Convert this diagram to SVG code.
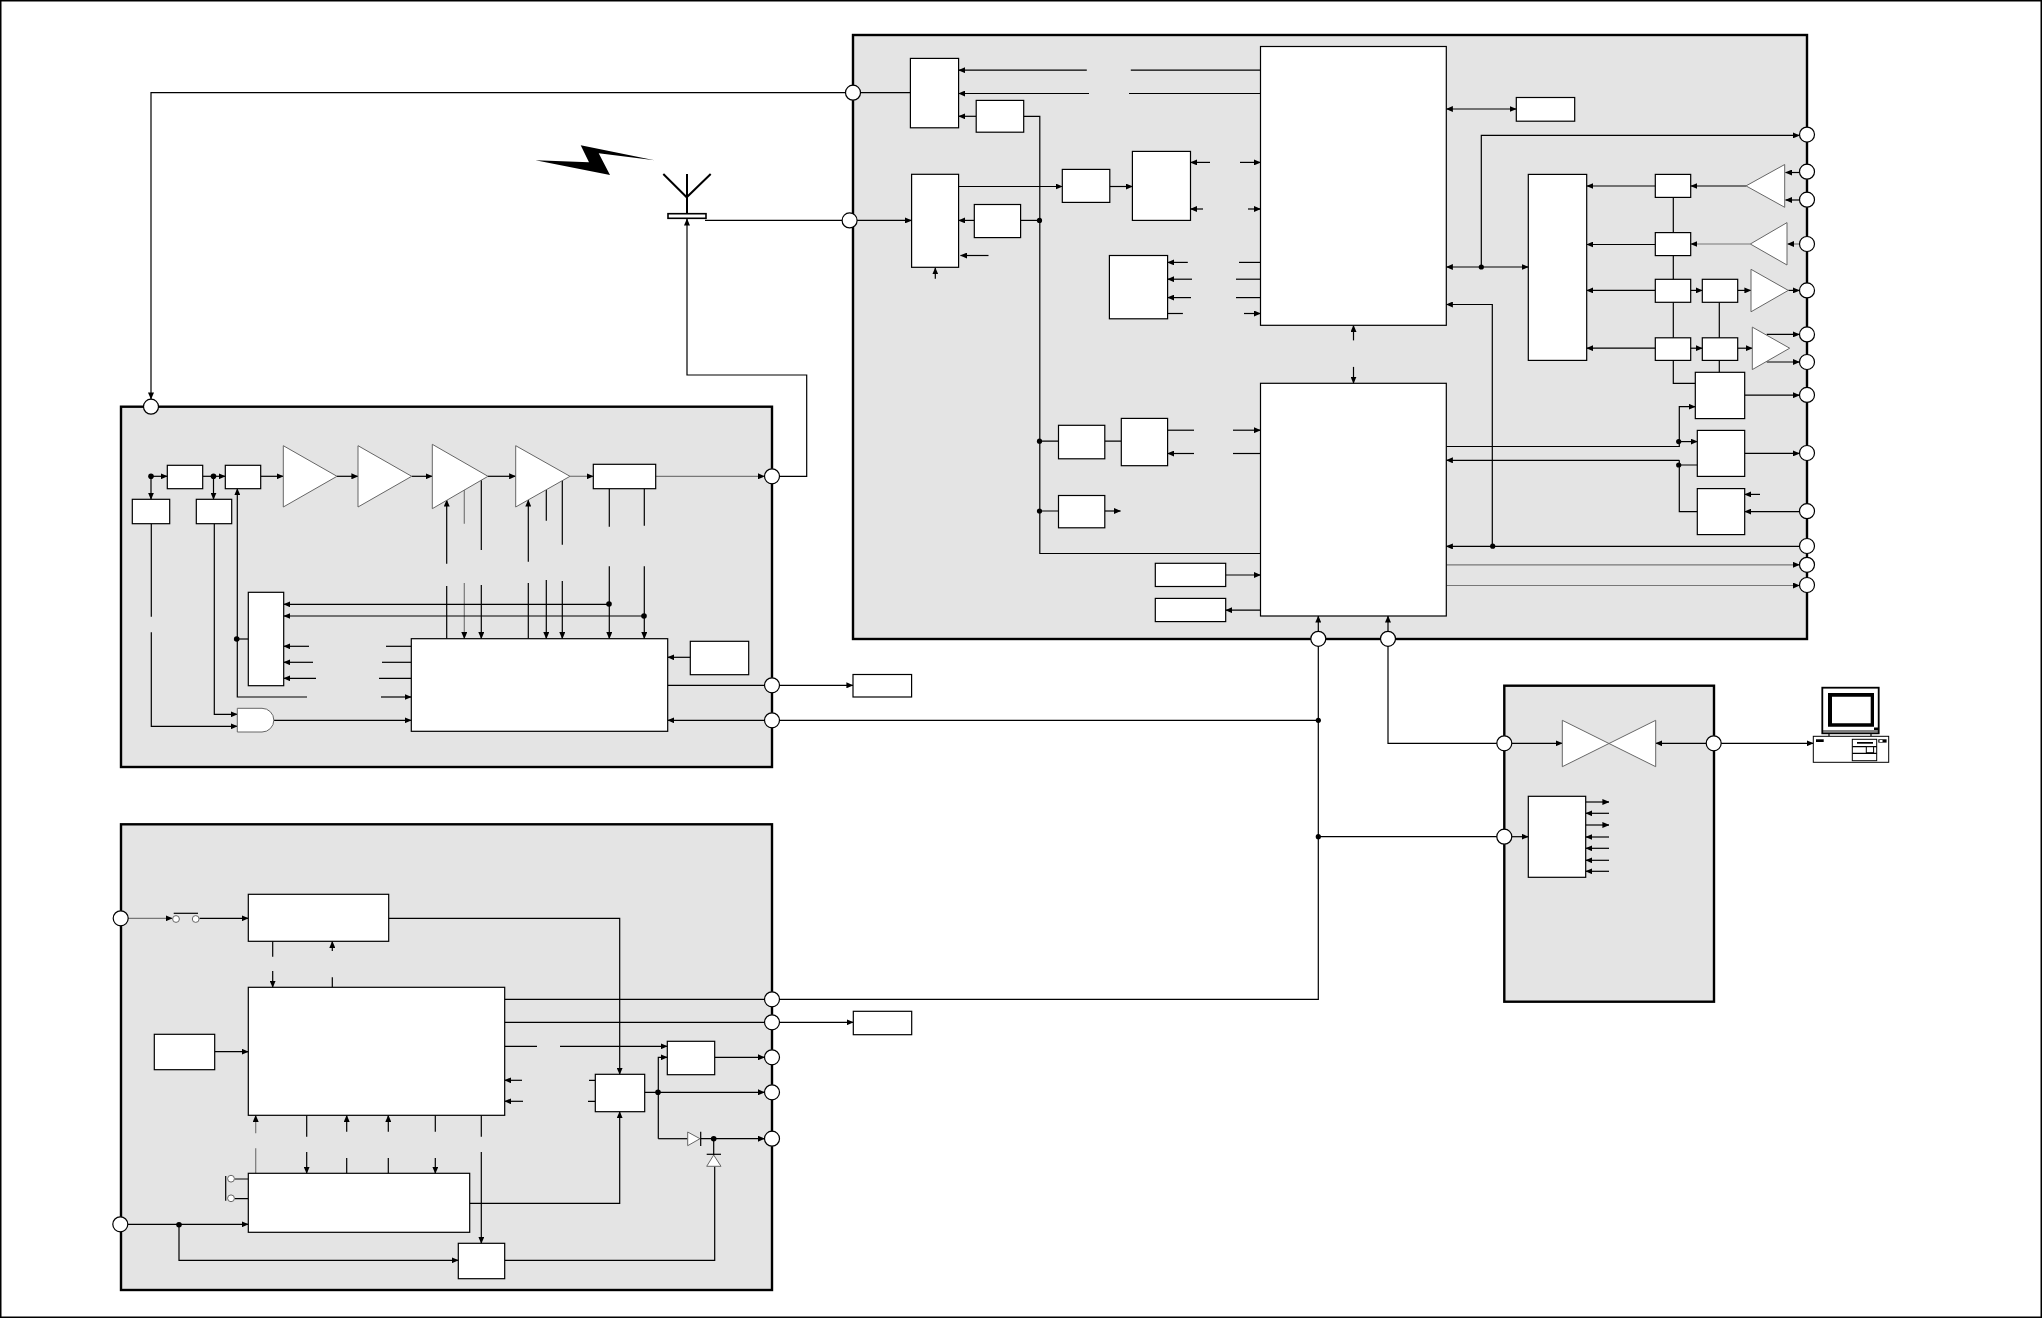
<svg xmlns="http://www.w3.org/2000/svg" width="2042" height="1318" viewBox="0 0 2042 1318">
<style>
.page{fill:#fff;stroke:#000;stroke-width:1.5}
.panel{fill:#e4e4e4;stroke:#000;stroke-width:2.4}
.b{fill:#fff;stroke:#000;stroke-width:1.2}
.t{fill:#fff;stroke:#666;stroke-width:1}
.c{fill:#fff;stroke:#000;stroke-width:1.2}
.j{fill:#000;stroke:none}
.l{fill:none;stroke:#000;stroke-width:1.2}
.g{fill:none;stroke:#777;stroke-width:1.2}
.a{marker-end:url(#m)}
.s{marker-start:url(#m2)}
.k{fill:#000;stroke:none}
.w{fill:#fff;stroke:#000;stroke-width:1}
.mon{fill:#fff;stroke:#000;stroke-width:1.8}
</style>
<defs>
<marker id="m" markerUnits="userSpaceOnUse" markerWidth="7" markerHeight="6" refX="6.6" refY="3" orient="auto"><path d="M0 0L7 3L0 6z"/></marker>
<marker id="m2" markerUnits="userSpaceOnUse" markerWidth="7" markerHeight="6" refX="6.6" refY="3" orient="auto-start-reverse"><path d="M0 0L7 3L0 6z"/></marker>
</defs>
<rect class="page" x="0.75" y="0.75" width="2040.5" height="1316.5"/>
<g id="panels">
<rect class="panel" x="853" y="35" width="954" height="604"/>
<rect class="panel" x="121" y="406.7" width="651" height="360.3"/>
<rect class="panel" x="121" y="824.3" width="651" height="465.7"/>
<rect class="panel" x="1504.3" y="685.7" width="209.7" height="316"/>
</g>
<g id="connectors">
<path class="l a" d="M853 92.7H151V399"/>
<path class="l" d="M853 92.7H910.4"/>
<path class="l a" d="M1086.8 70.2H958.6"/>
<path class="l" d="M1130.8 70.2H1260.5"/>
<path class="l a" d="M1089 93.5H958.6"/>
<path class="l" d="M1129 93.5H1260.5"/>
<path class="l a" d="M976.2 116.3H958.6"/>
<path class="l" d="M1023.7 116.3H1039.8V553.5H1260.5"/>
<path class="l a" d="M849.6 220.4H911.6"/>
<path class="l a" d="M974.3 220.4H958.6"/>
<path class="l" d="M1020.6 220.4H1039.8"/>
<path class="l a" d="M958.6 186.5H1062.3"/>
<path class="l a" d="M1109.8 186.5H1132.4"/>
<path class="l a" d="M988.5 255.5H960.5"/>
<path class="l a" d="M935.3 278.8V267.8"/>
<path class="l a" d="M1210 162.4H1190.5"/><path class="l a" d="M1240 162.4H1260.5"/>
<path class="l a" d="M1203 209H1190.5"/><path class="l a" d="M1248 209H1260.5"/>
<path class="l a" d="M1187.8 262.4H1167.6"/><path class="l" d="M1239 262.4H1260.5"/>
<path class="l a" d="M1192 279.2H1167.6"/><path class="l" d="M1236 279.2H1260.5"/>
<path class="l a" d="M1191 297.6H1167.6"/><path class="l" d="M1236 297.6H1260.5"/>
<path class="l" d="M1167.6 313.5H1182.9"/><path class="l a" d="M1244 313.5H1260.5"/>
<path class="l a" d="M1353.5 340.4V325.3"/><path class="l a" d="M1353.5 366.9V383.3"/>
<path class="l" d="M1039.8 441.2H1058.5M1104.8 441.2H1121.3M1039.8 511H1058.5"/>
<path class="l" d="M1167.6 430.2H1194"/><path class="l a" d="M1233 430.2H1260.5"/>
<path class="l a" d="M1194 453.5H1167.6"/><path class="l" d="M1233 453.5H1260.5"/>
<path class="l a" d="M1104.8 511H1120.5"/>
<path class="l a" d="M1225.7 575H1260.5"/>
<path class="l a" d="M1260.5 610.2H1225.7"/>
<path class="l a" d="M1318.3 638.8V616"/>
<path class="l a" d="M1388 638.8V616"/>
<path class="l s a" d="M1446.3 109H1516.3"/>
<path class="l a" d="M1481.3 267V135.4H1799.5"/>
<path class="l s a" d="M1446.3 267H1528.3"/>
<path class="l a" d="M1655.3 186H1586.7"/><path class="l a" d="M1655.3 244.5H1586.7"/><path class="l a" d="M1655.3 290.4H1586.7"/><path class="l a" d="M1655.3 348.2H1586.7"/>
<path class="l a" d="M1746 186H1690.7"/><path class="g a" d="M1750.3 244H1690.7"/>
<path class="l" d="M1673.3 197V383.4H1695.3M1719.3 302V372.3"/>
<path class="l a" d="M1799 172.5H1785.5"/><path class="l a" d="M1799 200H1785.5"/><path class="g a" d="M1799.5 244H1787.5"/>
<path class="l a" d="M1690.7 290.4H1702.3"/><path class="l a" d="M1690.7 348.2H1702.3"/>
<path class="l a" d="M1737.7 290.4H1751"/><path class="l a" d="M1737.7 348.2H1752.3"/>
<path class="l a" d="M1788.3 290.4H1799.5"/>
<path class="l a" d="M1766.7 334.4H1799.5"/><path class="l a" d="M1766.7 362H1799.5"/>
<path class="l a" d="M1744.7 395.2H1799.5"/><path class="l a" d="M1744.7 453.4H1799.5"/><path class="l a" d="M1799.5 511.6H1744.7"/>
<path class="l a" d="M1760 494.4H1744.7"/>
<path class="l a" d="M1446.3 446.5H1679.3V406.7H1695.3"/>
<path class="l a" d="M1678.7 441.6H1697.3"/>
<path class="l a" d="M1679.3 460.3H1446.3"/>
<path class="l" d="M1697.3 465H1679.3V460.3"/>
<path class="l" d="M1679.3 465V511.6H1697.3"/>
<path class="l a" d="M1492.3 546.4V304.5H1446.3"/>
<path class="l a" d="M1799.5 546.4H1446.3"/>
<path class="g a" d="M1446.3 564.8H1799.5"/>
<path class="g a" d="M1446.3 585.5H1799.5"/>
<path class="l" d="M705 220.4H849.6"/>
<path class="l a" d="M772 476.3H806.7V375H687V219"/>
<path class="l" d="M1318.3 638.8V999.3H772"/>
<path class="l" d="M1318.3 836.7H1504.3"/>
<path class="l" d="M1388 638.8V743.3H1504.3"/>
<path class="l a" d="M1318.3 720.3H667.7"/>
<path class="l a" d="M151 476.3V499.3"/>
<path class="l a" d="M151 476.3H167.3"/>
<path class="l a" d="M202.7 476.3H225.3"/>
<path class="l a" d="M213.5 476.3V499.3"/>
<path class="l a" d="M260.7 476.3H283.3"/>
<path class="l a" d="M337 476.3H358"/>
<path class="l a" d="M411.7 476.3H432.3"/>
<path class="l a" d="M488 476.3H515.7"/>
<path class="g a" d="M570 476.3H593.3"/>
<path class="g a" d="M655.7 476.3H764.5"/>
<path class="l a" d="M446.7 563.7V500"/><path class="l" d="M446.7 586V638.7"/>
<path class="g" d="M464.3 489.3V523.7"/><path class="g a" d="M464.3 583V638.7"/>
<path class="l" d="M481.3 480V550"/><path class="l a" d="M481.3 585V638.7"/>
<path class="l a" d="M528.3 561.7V500"/><path class="l" d="M528.3 583V638.7"/>
<path class="l" d="M546.3 490V520.7"/><path class="l a" d="M546.3 580V638.7"/>
<path class="l" d="M562.3 480V544.7"/><path class="l a" d="M562.3 581V638.7"/>
<path class="l" d="M609.3 488.7V526.7"/><path class="l a" d="M609.3 566.3V638.7"/>
<path class="l" d="M644.3 488.7V525.7"/><path class="l a" d="M644.3 566.3V638.7"/>
<path class="l a" d="M609.3 604.3H283.7"/><path class="l a" d="M644.3 616H283.7"/>
<path class="l a" d="M309 646.3H283.7"/><path class="l" d="M386 646.3H411.3"/>
<path class="l a" d="M313 662.3H283.7"/><path class="l" d="M382 662.3H411.3"/>
<path class="l a" d="M316 678.3H283.7"/><path class="l" d="M379 678.3H411.3"/>
<path class="l a" d="M307 697H237.3V488.7"/>
<path class="l a" d="M381 697H411.3"/>
<path class="l" d="M236.7 639H248.3"/>
<path class="l a" d="M690.3 657.3H667.7"/>
<path class="l" d="M667.7 685.3H772"/>
<path class="l a" d="M772 685.3H853"/>
<path class="l a" d="M273.7 720.3H411.3"/>
<path class="l" d="M151.3 523.7V616.7"/>
<path class="l a" d="M151.3 632.3V726.3H237.3"/>
<path class="l a" d="M214.3 523.7V714.3H237.3"/>
<path class="g a" d="M120.7 918.3H172.3"/>
<path class="l a" d="M199.5 918.3H248.3"/>
<path class="l a" d="M388.7 918.3H619.7V1074.3"/>
<path class="l" d="M272.7 941.3V956.7"/><path class="l a" d="M272.7 971V987.3"/>
<path class="l a" d="M332.3 951V941.3"/><path class="l" d="M332.3 977.3V987.3"/>
<path class="l a" d="M214.7 1051.7H248.3"/>
<path class="g a" d="M255.7 1133.3V1115.3"/><path class="g" d="M255.7 1148.3V1173.3"/>
<path class="l" d="M306.7 1115.3V1136.7"/><path class="l a" d="M306.7 1152V1173.3"/>
<path class="l a" d="M346.7 1131.7V1115.3"/><path class="l" d="M346.7 1158V1173.3"/>
<path class="l a" d="M388.3 1131.7V1115.3"/><path class="l" d="M388.3 1158V1173.3"/>
<path class="l" d="M435.3 1115.3V1131.7"/><path class="l a" d="M435.3 1158V1173.3"/>
<path class="l" d="M481.3 1115.3V1136.7"/><path class="l a" d="M481.3 1152V1243.3"/>
<path class="l a" d="M120.3 1224.3H248.3"/>
<path class="l a" d="M179 1224.7V1260.3H458.3"/>
<path class="l a" d="M469.7 1203.3H619.7V1111.7"/>
<path class="l" d="M234.5 1179H248.3M234.5 1198.7H248.3"/>
<path class="l" d="M504.7 999.3H772"/>
<path class="l" d="M504.7 1022.3H772"/>
<path class="l a" d="M772 1022.3H853.3"/>
<path class="l" d="M504.7 1046.3H537"/><path class="l a" d="M560 1046.3H667.3"/>
<path class="l a" d="M522 1080.3H504.7"/><path class="l a" d="M523 1101.3H504.7"/>
<path class="l" d="M589 1080.3H595.3M588 1101.3H595.3"/>
<path class="l a" d="M644.7 1092.3H764.5"/>
<path class="l a" d="M658.3 1138.7V1057.3H667.3"/>
<path class="l" d="M658.3 1138.7H687.7"/>
<path class="l a" d="M700.7 1138.7H764.5"/>
<path class="l a" d="M714.7 1057.3H764.5"/>
<path class="l" d="M713.7 1138.7V1155M714.7 1166.3V1260.3H504.7"/>
<path class="l a" d="M1504.3 743.3H1562.3"/>
<path class="l a" d="M1713.7 743.3H1655.7"/>
<path class="l a" d="M1721 743.3H1813.3"/>
<path class="l a" d="M1504.3 836.7H1528.3"/>
<path class="l a" d="M1585.7 802H1609"/><path class="l a" d="M1609 813.3H1585.7"/><path class="l a" d="M1585.7 825H1609"/><path class="l a" d="M1609 837H1585.7"/><path class="l a" d="M1609 848.3H1585.7"/><path class="l a" d="M1609 860.3H1585.7"/><path class="l a" d="M1609 871.3H1585.7"/>
</g>
<g id="junctions">
<circle class="j" cx="1039.5" cy="220.4" r="2.6"/><circle class="j" cx="1039.5" cy="441.2" r="2.6"/><circle class="j" cx="1039.5" cy="511" r="2.6"/>
<circle class="j" cx="1481.3" cy="267" r="2.6"/><circle class="j" cx="1678.7" cy="441.6" r="2.6"/><circle class="j" cx="1678.7" cy="465" r="2.6"/><circle class="j" cx="1492.7" cy="546.2" r="2.6"/>
<circle class="j" cx="151" cy="476.3" r="2.8"/><circle class="j" cx="213.5" cy="476.3" r="2.8"/><circle class="j" cx="236.7" cy="639" r="2.8"/>
<circle class="j" cx="609" cy="604" r="2.8"/><circle class="j" cx="644" cy="616" r="2.8"/>
<circle class="j" cx="1318.3" cy="720.3" r="2.6"/><circle class="j" cx="1318.3" cy="836.7" r="2.6"/>
<circle class="j" cx="179" cy="1224.7" r="2.8"/><circle class="j" cx="658" cy="1092.3" r="2.8"/><circle class="j" cx="713.7" cy="1138.7" r="2.8"/>
</g>
<g id="lightning"><polygon class="k" points="535.5,160.3 589,162.3 580.7,145.3 654.5,160.3 598.7,153.3 610,175"/></g>
<g id="antenna">
<path d="M687 174V213.7M663.3 174L686.7 197.3L710.7 174" fill="none" stroke="#000" stroke-width="2"/>
<rect x="668" y="213.7" width="38" height="4.6" fill="#fff" stroke="#000" stroke-width="1.6"/>
</g>
<g id="top-switches">
<rect id="n1" class="b" x="910.4" y="58.4" width="48.2" height="69.4"/>
<rect id="n2" class="b" x="976.2" y="100.4" width="47.5" height="31.8"/>
<rect id="n3" class="b" x="911.6" y="174.3" width="47" height="93"/>
<rect id="n4" class="b" x="974.3" y="204.5" width="46.3" height="33.1"/>
<rect id="n5" class="b" x="1062.3" y="169.4" width="47.5" height="33"/>
<rect id="n6" class="b" x="1132.4" y="151.4" width="58.1" height="69"/>
<rect id="n7" class="b" x="1109.4" y="255.5" width="58.2" height="63.3"/>
<rect id="n8" class="b" x="1260.5" y="46.5" width="185.8" height="278.8"/>
<rect id="n9" class="b" x="1260.5" y="383.3" width="185.8" height="232.7"/>
<rect id="n10" class="b" x="1058.5" y="425.3" width="46.3" height="33.5"/>
<rect id="n11" class="b" x="1121.3" y="418.4" width="46.3" height="47.3"/>
<rect id="n12" class="b" x="1058.5" y="495.5" width="46.3" height="32.3"/>
<rect id="n13" class="b" x="1155.3" y="563.3" width="70.4" height="23.2"/>
<rect id="n14" class="b" x="1155.3" y="598.4" width="70.4" height="23.2"/>
<rect id="n15" class="b" x="1516.3" y="97.5" width="58.4" height="23.7"/>
<rect id="n16" class="b" x="1528.3" y="174.4" width="58.4" height="186"/>
<rect id="n17" class="b" x="1655.3" y="174.4" width="35.4" height="23"/>
<rect id="n18" class="b" x="1655.3" y="232.6" width="35.4" height="23"/>
<rect id="n19" class="b" x="1655.3" y="279.3" width="35.4" height="23"/>
<rect id="n20" class="b" x="1655.3" y="337.8" width="35.4" height="22.6"/>
<rect id="n21" class="b" x="1702.3" y="279.3" width="35.4" height="23"/>
<rect id="n22" class="b" x="1702.3" y="337.8" width="35.4" height="22.6"/>
<polygon id="n23" class="t" points="1746,185.9 1784.7,164.5 1784.7,207.3"/>
<polygon id="n24" class="t" points="1750.3,244 1787,222.6 1787,265"/>
<polygon id="n25" class="t" points="1751,269.3 1751,311.8 1788.3,290.4"/>
<polygon id="n26" class="t" points="1752.3,327.1 1752.3,369.6 1789.7,348.2"/>
<rect id="n27" class="b" x="1695.3" y="372.3" width="49.4" height="46.3"/>
<rect id="n28" class="b" x="1697.3" y="430.4" width="47.4" height="46"/>
<rect id="n29" class="b" x="1697.3" y="488.6" width="47.4" height="46"/>
</g>
<g id="pa-nodes">
<rect id="p1" class="b" x="132.3" y="499.3" width="37.4" height="24.4"/>
<rect id="p2" class="b" x="167.3" y="465.3" width="35.4" height="23.4"/>
<rect id="p3" class="b" x="225.3" y="465.3" width="35.4" height="23.4"/>
<rect id="p4" class="b" x="196.3" y="499.3" width="35.4" height="24.4"/>
<polygon id="p5" class="t" points="283.3,445.7 283.3,507 337,476.3"/>
<polygon id="p6" class="t" points="358,445.7 358,507 411.7,476.3"/>
<polygon id="p7" class="t" points="432.3,444.3 432.3,508.7 488,476.3"/>
<polygon id="p8" class="t" points="515.7,445.7 515.7,507 570,476.3"/>
<rect id="p9" class="b" x="593.3" y="464.3" width="62.4" height="24.4"/>
<rect id="p10" class="b" x="248.3" y="592.3" width="35.4" height="93.4"/>
<rect id="p11" class="b" x="411.3" y="638.7" width="256.4" height="92.6"/>
<rect id="p12" class="b" x="690.3" y="641.3" width="58.4" height="33.4"/>
<rect id="p13" class="b" x="853" y="674.5" width="58.6" height="22.5"/>
<path id="p14" class="t" d="M237.3 708.3H262A11.8 11.8 0 0 1 262 732H237.3Z"/>
</g>
<g id="power-nodes">
<rect id="q1" class="b" x="248.3" y="894.3" width="140.4" height="47"/>
<rect id="q2" class="b" x="248.3" y="987.3" width="256.4" height="128"/>
<rect id="q3" class="b" x="154.3" y="1034.3" width="60.4" height="35.4"/>
<rect id="q4" class="b" x="248.3" y="1173.3" width="221.4" height="59"/>
<rect id="q5" class="b" x="458.3" y="1243.3" width="46.4" height="35.4"/>
<rect id="q6" class="b" x="667.3" y="1041.3" width="47.4" height="33.4"/>
<rect id="q7" class="b" x="595.3" y="1074.3" width="49.4" height="37.4"/>
<rect id="q8" class="b" x="853.3" y="1011.3" width="58.4" height="23.4"/>
<g id="sw1"><circle class="t" cx="176" cy="919" r="3.4"/><circle class="t" cx="195.7" cy="919" r="3.4"/><path class="l" d="M173.7 913.3H198"/></g>
<g id="sw2"><circle class="t" cx="231" cy="1178.7" r="3.4"/><circle class="t" cx="231" cy="1198.3" r="3.4"/><path class="l" d="M225.7 1176V1200.7"/></g>
<g id="d1"><polygon class="t" points="687.7,1132 687.7,1145.7 700,1138.7"/><path class="l" d="M700.7 1131.7V1146"/></g>
<g id="d2"><polygon class="t" points="713.7,1155 706.7,1166.3 721,1166.3"/><path class="l" d="M706.7 1154.3H721"/></g>
</g>
<g id="serial-nodes">
<polygon id="s1" class="t" points="1562.3,720.3 1562.3,766.7 1655.7,720.3 1655.7,766.7"/>
<rect id="s2" class="b" x="1528.3" y="796.3" width="57.4" height="81"/>
</g>
<g id="computer">
<rect class="mon" x="1822.3" y="687.7" width="56.4" height="45.6"/>
<path d="M1828 693H1874V726.7H1828Z M1832 696.7V723.3H1870.7V696.7Z" fill="#000" fill-rule="evenodd"/>
<path class="l" d="M1823 731H1878M1829 733.3V736.3M1871 733.3V736.3"/>
<rect class="k" x="1874" y="727.5" width="4" height="2.5"/>
<rect class="w" x="1813.3" y="736.3" width="75.4" height="26"/>
<rect class="k" x="1816" y="739.3" width="7.7" height="2.7"/>
<rect class="w" x="1852.3" y="739.3" width="24.4" height="21.4"/>
<rect class="k" x="1857" y="742" width="16" height="1.7"/>
<path class="l" d="M1852.3 746.7H1876.7M1852.3 753.3H1876.7"/>
<rect class="w" x="1866.3" y="746.7" width="7.3" height="6"/>
<rect class="k" x="1878.3" y="739.3" width="8.3" height="3.3"/>
<rect x="1879.5" y="740" width="3" height="2" fill="#fff"/>
</g>
<g id="ports">
<circle class="c" cx="853" cy="92.7" r="7.5"/><circle class="c" cx="849.6" cy="220.4" r="7.5"/>
<circle class="c" cx="1807" cy="134.6" r="7.5"/><circle class="c" cx="1807" cy="171.7" r="7.5"/><circle class="c" cx="1807" cy="199.7" r="7.5"/><circle class="c" cx="1807" cy="244" r="7.5"/><circle class="c" cx="1807" cy="290.4" r="7.5"/><circle class="c" cx="1807" cy="334.4" r="7.5"/><circle class="c" cx="1807" cy="362" r="7.5"/><circle class="c" cx="1807" cy="394.9" r="7.5"/><circle class="c" cx="1807" cy="453" r="7.5"/><circle class="c" cx="1807" cy="511.2" r="7.5"/><circle class="c" cx="1807" cy="546" r="7.5"/><circle class="c" cx="1807" cy="564.8" r="7.5"/><circle class="c" cx="1807" cy="585" r="7.5"/>
<circle class="c" cx="1318.3" cy="638.8" r="7.5"/><circle class="c" cx="1388" cy="638.8" r="7.5"/>
<circle class="c" cx="151" cy="406.7" r="7.5"/><circle class="c" cx="772" cy="476.3" r="7.5"/><circle class="c" cx="772" cy="685.3" r="7.5"/><circle class="c" cx="772" cy="720.3" r="7.5"/>
<circle class="c" cx="120.7" cy="918.3" r="7.5"/><circle class="c" cx="120.3" cy="1224.3" r="7.5"/>
<circle class="c" cx="772" cy="999.3" r="7.5"/><circle class="c" cx="772" cy="1022.3" r="7.5"/><circle class="c" cx="772" cy="1057.3" r="7.5"/><circle class="c" cx="772" cy="1092.3" r="7.5"/><circle class="c" cx="772" cy="1138.7" r="7.5"/>
<circle class="c" cx="1504.3" cy="743.3" r="7.5"/><circle class="c" cx="1504.3" cy="836.7" r="7.5"/><circle class="c" cx="1713.7" cy="743.3" r="7.5"/>
</g>
</svg>
